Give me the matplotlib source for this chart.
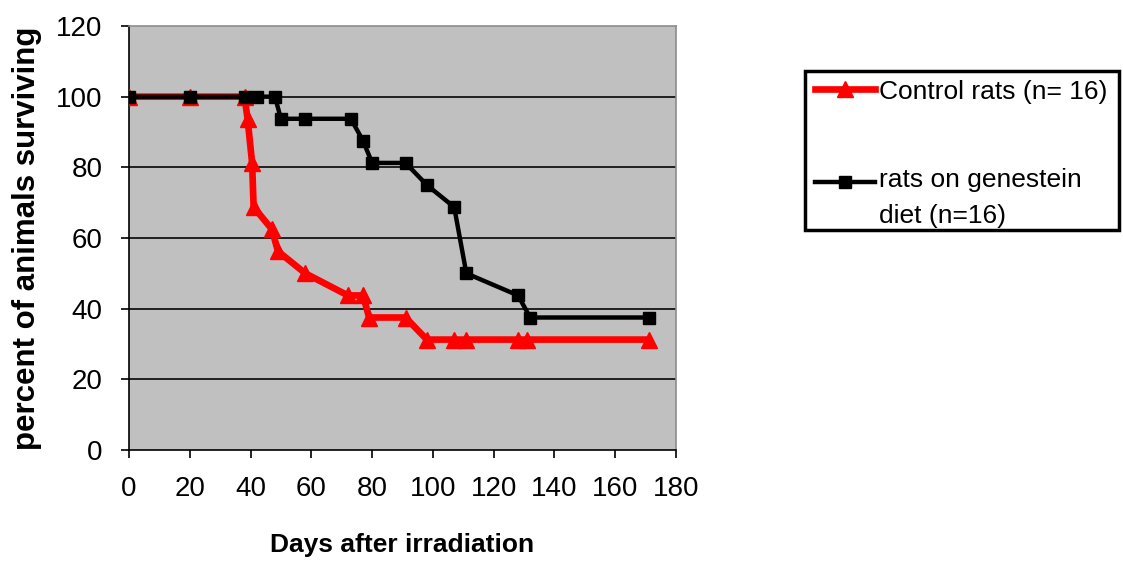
import matplotlib
matplotlib.use("Agg")
import matplotlib.pyplot as plt
from matplotlib.legend_handler import HandlerLine2D
from matplotlib.patches import Rectangle

plt.rcParams['font.family'] = ['Liberation Sans', 'DejaVu Sans']

# survival data (days after irradiation, percent surviving)
control_days = [0, 20, 38, 39, 40.5, 41, 47, 49, 58, 72, 77, 79, 91, 98, 107, 111, 128, 131, 171]
control_pct = [100, 100, 100, 93.75, 81.25, 68.75, 62.5, 56.25, 50, 43.75, 43.75,
               37.5, 37.5, 31.25, 31.25, 31.25, 31.25, 31.25, 31.25]

genistein_days = [0, 20, 38, 42, 48, 50, 58, 73, 77, 80, 91, 98, 107, 111, 128, 132, 171]
genistein_pct = [100, 100, 100, 100, 100, 93.75, 93.75, 93.75, 87.5, 81.25, 81.25,
                 75, 68.75, 50, 43.75, 37.5, 37.5]

x_ticks = [0, 20, 40, 60, 80, 100, 120, 140, 160, 180]
y_ticks = [0, 20, 40, 60, 80, 100, 120]


class RaisedHandler(HandlerLine2D):
    """Line handler drawn level with the first line of a two-line label."""

    def __init__(self, lift, **kw):
        super().__init__(**kw)
        self.lift = lift

    def create_artists(self, legend, orig_handle, xdescent, ydescent,
                       width, height, fontsize, trans):
        return super().create_artists(legend, orig_handle, xdescent,
                                      ydescent - 2 * self.lift, width, height,
                                      fontsize, trans)


fig = plt.figure(figsize=(11.23, 5.63), dpi=100)
W, H = 1123, 563
ax = fig.add_axes([0.1149, 0.2007, 0.602 - 0.1149, 0.9538 - 0.2007])
ax.set_facecolor('#C0C0C0')

ctrl, = ax.plot(control_days, control_pct, color='#FF0000', lw=4.8, marker='^',
                markersize=11, label='Control rats (n= 16)', zorder=3)
gen, = ax.plot(genistein_days, genistein_pct, color='black', lw=3.2, marker='s',
               markersize=9, label='rats on genestein\ndiet (n=16)', zorder=4)

ax.set_xlim(0, 180)
ax.set_ylim(0, 120)
ax.set_xticks(x_ticks)
ax.set_yticks(y_ticks)

# horizontal gridlines only
for y in y_ticks[1:-1]:
    ax.axhline(y, color='#202020', lw=1.4, zorder=1)

for side in ['top', 'right']:
    ax.spines[side].set_color('#8C8C8C')
    ax.spines[side].set_linewidth(1.2)
for side in ['left', 'bottom']:
    ax.spines[side].set_color('black')
    ax.spines[side].set_linewidth(1.2)

ax.tick_params(axis='both', direction='out', length=6, width=1.2, labelsize=20,
               colors='black')
ax.tick_params(axis='x', pad=13)
ax.tick_params(axis='y', pad=13)

ax.set_xlabel('Days after irradiation', fontsize=19, fontweight='bold', labelpad=22)
ax.set_ylabel('percent of animals surviving', fontsize=22.5, fontweight='bold', labelpad=10)

leg = fig.legend(handles=[ctrl, gen], loc='upper left',
                 bbox_to_anchor=(804 / W, 1 - 69 / H),
                 bbox_transform=fig.transFigure, borderaxespad=0,
                 fontsize=19, handlelength=2.3, handletextpad=0.15,
                 labelspacing=2.45, borderpad=0.4, frameon=False, numpoints=1,
                 handler_map={gen: RaisedHandler(lift=11.5)})
for t in leg.get_texts():
    t.set_linespacing(1.6)

# legend box outline
fig.patches.append(Rectangle((805 / W, 1 - 230 / H), 314 / W, 159 / H,
                             transform=fig.transFigure, facecolor='none',
                             edgecolor='black', lw=2.5))

fig.savefig('out.png', dpi=100)
